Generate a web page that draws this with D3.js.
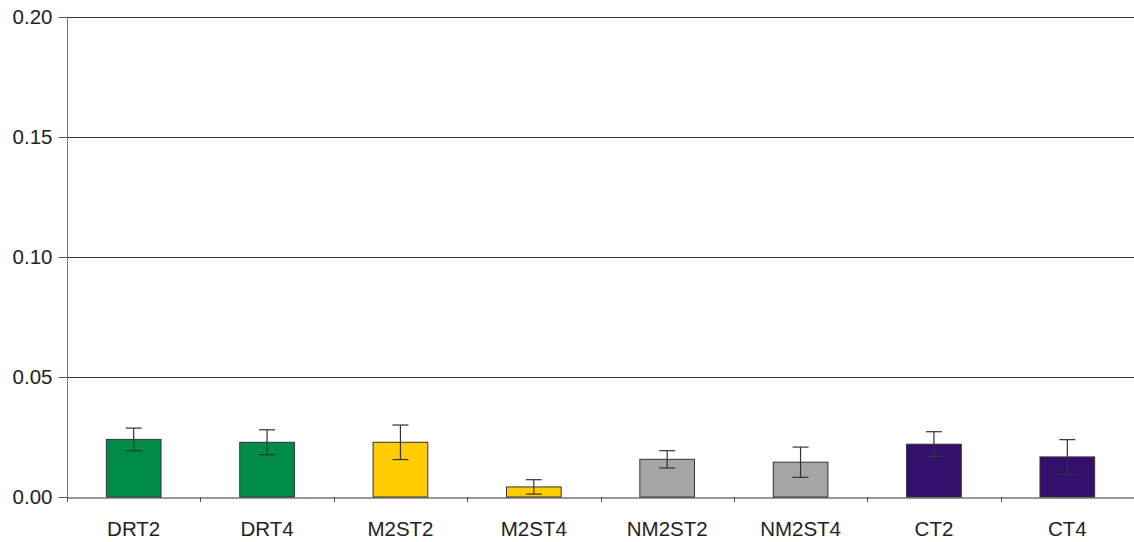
<!DOCTYPE html>
<html>
<head>
<meta charset="utf-8">
<script src="https://cdn.jsdelivr.net/npm/d3@7"></script>
<style>
  html, body { margin: 0; padding: 0; background: #fff; }
  svg { display: block; }
  text { font-family: "Liberation Sans", Arial, sans-serif; fill: #222; }
</style>
</head>
<body>
<svg id="chart" width="1134" height="542"></svg>
<script>
// Treatment groups and their means with error bar half-widths
const categories = ["DRT2", "DRT4", "M2ST2", "M2ST4", "NM2ST2", "NM2ST4", "CT2", "CT4"];
const means      = [0.0240, 0.0228, 0.0228, 0.0042, 0.0157, 0.0145, 0.0220, 0.0167];
const errors     = [0.0047, 0.0052, 0.0072, 0.0030, 0.0036, 0.0063, 0.0052, 0.0072];
const barColors  = ["#008c47", "#008c47", "#ffcc00", "#ffcc00", "#a6a5a3", "#a6a5a3", "#330f6e", "#330f6e"];
const yTicks     = [0, 0.05, 0.10, 0.15, 0.20];

const svg = d3.select("#chart");
const margin = { left: 67, right: 0, top: 17, bottom: 45 };
const W = 1134, H = 542;
const FONT = 20.5;

const x = d3.scaleBand()
  .domain(categories)
  .range([margin.left, W - margin.right])
  .paddingInner(0.59)
  .paddingOuter(0.295);

const xOuter = d3.scaleBand()
  .domain(categories)
  .range([margin.left, W - margin.right]);

const y = d3.scaleLinear()
  .domain([0, 0.20])
  .range([H - margin.bottom, margin.top]);

// horizontal gridlines
svg.append("g")
  .selectAll("line")
  .data(yTicks.filter(d => d > 0))
  .join("line")
  .attr("x1", margin.left)
  .attr("x2", W - margin.right)
  .attr("y1", d => Math.round(y(d)) + 0.5)
  .attr("y2", d => Math.round(y(d)) + 0.5)
  .attr("stroke", "#333")
  .attr("stroke-width", 1);

// y axis
const yAxis = d3.axisLeft(y)
  .tickValues(yTicks)
  .tickFormat(d3.format(".2f"))
  .tickSize(9)
  .tickPadding(6);

const gy = svg.append("g")
  .attr("transform", `translate(${margin.left + 0.5},0)`)
  .call(yAxis);
gy.select(".domain").attr("stroke", "#777").attr("d", `M0,${y(0.20)}V${y(0)}`);
gy.selectAll(".tick line").attr("stroke", "#555");
gy.selectAll(".tick text")
  .attr("font-size", FONT)
  .attr("fill", "#222")
  .attr("font-family", "'Liberation Sans', Arial, sans-serif");

// bars
svg.append("g")
  .selectAll("rect")
  .data(categories)
  .join("rect")
  .attr("x", d => x(d))
  .attr("y", (d, i) => y(means[i]))
  .attr("width", x.bandwidth())
  .attr("height", (d, i) => y(0) - y(means[i]))
  .attr("fill", (d, i) => barColors[i])
  .attr("stroke", "#333")
  .attr("stroke-width", 1);

// error bars
const eb = svg.append("g").attr("stroke", "#333").attr("stroke-width", 1.2);
categories.forEach((c, i) => {
  const cx = x(c) + x.bandwidth() / 2;
  const lo = Math.max(0, means[i] - errors[i]);
  const hi = means[i] + errors[i];
  eb.append("line").attr("x1", cx).attr("x2", cx).attr("y1", y(lo)).attr("y2", y(hi));
  eb.append("line").attr("x1", cx - 8).attr("x2", cx + 8).attr("y1", y(hi)).attr("y2", y(hi));
  if (means[i] - errors[i] > 0.001) {
    eb.append("line").attr("x1", cx - 8).attr("x2", cx + 8).attr("y1", y(lo)).attr("y2", y(lo));
  }
});

// x axis
const xAxis = d3.axisBottom(xOuter).tickSize(0).tickPadding(24);
const gx = svg.append("g")
  .attr("transform", `translate(0,${Math.round(y(0)) + 0.5})`)
  .call(xAxis);
gx.select(".domain").attr("stroke", "#333");
gx.selectAll(".tick text")
  .attr("font-size", FONT)
  .attr("fill", "#222")
  .attr("font-family", "'Liberation Sans', Arial, sans-serif");

// category separator ticks
svg.append("g")
  .selectAll("line")
  .data(categories)
  .join("line")
  .attr("x1", d => Math.round(xOuter(d)) + 0.5)
  .attr("x2", d => Math.round(xOuter(d)) + 0.5)
  .attr("y1", Math.round(y(0)))
  .attr("y2", Math.round(y(0)) + 5)
  .attr("stroke", "#555");
</script>
</body>
</html>
